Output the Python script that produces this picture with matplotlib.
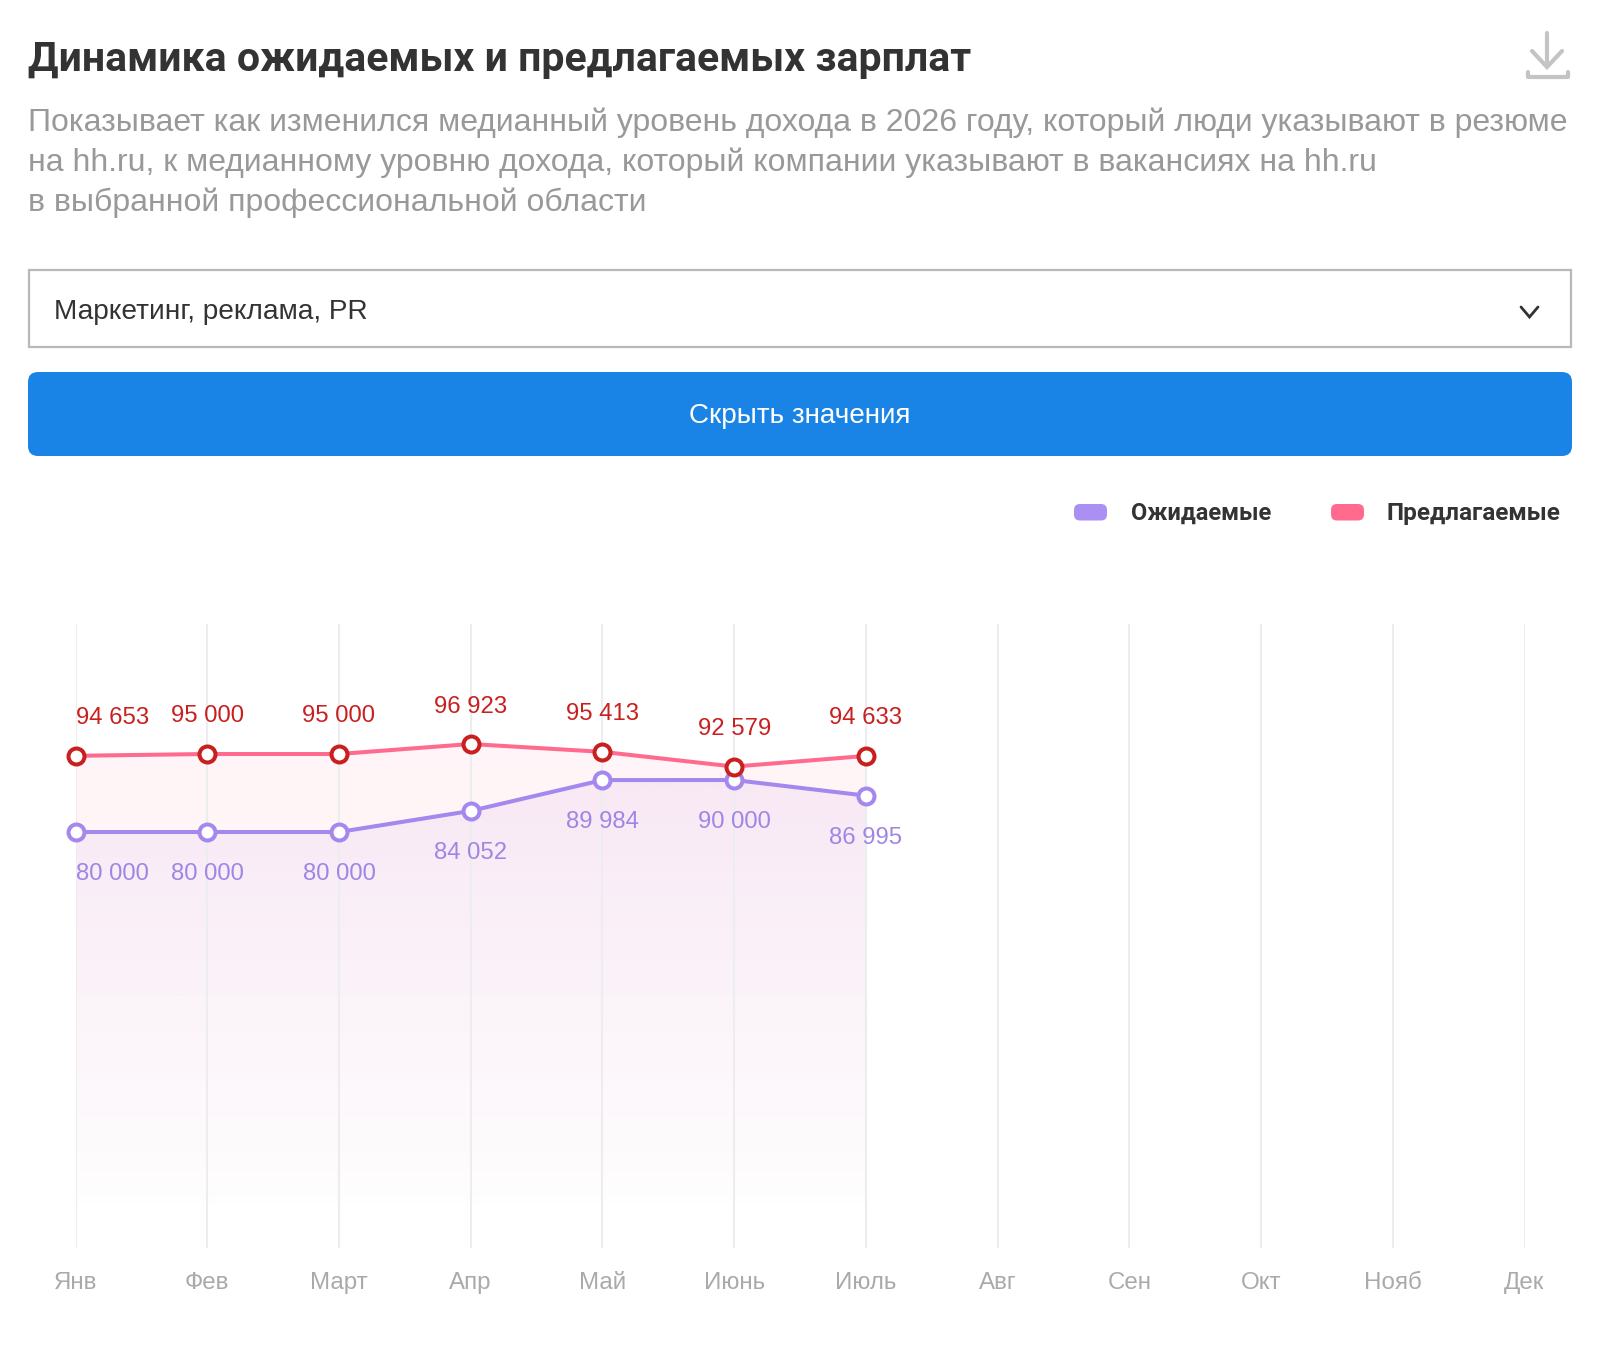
import numpy as np
import matplotlib
matplotlib.use("Agg")
import matplotlib.pyplot as plt
from matplotlib.patches import FancyBboxPatch, Rectangle

months = ['Янв', 'Фев', 'Март', 'Апр', 'Май', 'Июнь', 'Июль', 'Авг', 'Сен', 'Окт', 'Нояб', 'Дек']
expected = [80000, 80000, 80000, 84052, 89984, 90000, 86995]
offered = [94653, 95000, 95000, 96923, 95413, 92579, 94633]
title = 'Динамика ожидаемых и предлагаемых зарплат'
subtitle = ['Показывает как изменился медианный уровень дохода в 2026 году, который люди указывают в резюме',
            'на hh.ru, к медианному уровню дохода, который компании указывают в вакансиях на hh.ru',
            'в выбранной профессиональной области']
dropdown = 'Маркетинг, реклама, PR'
button = 'Скрыть значения'
legend_names = ['Ожидаемые', 'Предлагаемые']

PURPLE = '#a488ee'
SWATCH = '#ab8ff2'
PURPLE_TXT = '#a086e4'
PINK = '#ff6b8f'
RED = '#c8201f'
BODY = 'Liberation Sans'
HEAD = 'Roboto'

W, H = 1600, 1352
fig = plt.figure(figsize=(W / 100, H / 100), dpi=100, facecolor='white')

# page chrome, in pixel coordinates
ui = fig.add_axes([0, 0, 1, 1])
ui.set_xlim(0, W)
ui.set_ylim(H, 0)
ui.axis('off')

ui.text(28, 71, title, family=HEAD, weight='bold', fontsize=29.5, color='#333333', va='baseline')
for t, y in zip(subtitle, [131.5, 171.5, 211.5]):
    ui.text(28, y, t, family=BODY, fontsize=23.03, color='#999999', va='baseline')

ui.add_patch(Rectangle((29, 269.5), 1542, 77.5, fc='white', ec='#b8b8b8', lw=1.6))
ui.text(54, 319, dropdown, family=BODY, fontsize=20.2, color='#333333', va='baseline')
ui.plot([1521, 1529.5, 1538], [307, 317, 307], color='#333333', lw=2, solid_capstyle='round', solid_joinstyle='miter')

ui.add_patch(FancyBboxPatch((28, 372), 1544, 84, boxstyle='round,pad=0,rounding_size=10',
                            fc='#1984e5', ec='none'))
ui.text(800, 423, button, family=BODY, fontsize=20.1, color='white', ha='center', va='baseline')

# download icon
ic = '#c4c4c4'
ui.plot([1547, 1547], [33, 67], color=ic, lw=3, solid_capstyle='round')
ui.plot([1532, 1547, 1562], [51, 67, 51], color=ic, lw=3, solid_capstyle='round', solid_joinstyle='miter')
ui.plot([1527.5, 1527.5, 1567.5, 1567.5], [72, 77, 77, 72], color=ic, lw=3, solid_capstyle='round', solid_joinstyle='round')

# legend
for x, c in zip([1074, 1331], [SWATCH, PINK]):
    ui.add_patch(FancyBboxPatch((x, 504), 33, 16.5, boxstyle='round,pad=0,rounding_size=6',
                                fc=c, ec='none'))
for x, t, s in zip([1130.5, 1386], legend_names, [17.0, 17.5]):
    ui.text(x, 520, t, family=HEAD, weight='bold', fontsize=s, color='#333333', va='baseline')

# chart
x0, x1 = 75.5, 1524.5
ytop, ybot = 624.0, 1248.0
ax = fig.add_axes([x0 / W, 1 - ybot / H, (x1 - x0) / W, (ybot - ytop) / H])
ax.patch.set_alpha(0)
ax.set_xlim(0, 11)
ax.set_ylim(0, 120000)
for s in ax.spines.values():
    s.set_visible(False)
ax.set_yticks([])
xs = np.arange(len(months))
ax.set_xticks(xs, months, family=BODY, fontsize=17.4, color='#aaaaaa')
ax.tick_params(axis='x', length=0, pad=17.3)
ax.set_axisbelow(False)
ax.xaxis.grid(True, color='#ededf0', lw=1.5, zorder=3)


def gradient_fill(values, color, alpha_top, z):
    px = np.arange(len(values))
    poly = ax.fill_between(px, 0, values, color='none', lw=0)
    rgb = matplotlib.colors.to_rgb(color)
    n = 256
    img = np.zeros((n, 1, 4))
    img[..., 0], img[..., 1], img[..., 2] = rgb
    # fades out slightly above the axis floor
    frac = np.clip((np.linspace(1, 0, n) * 120000 - 5000) / (np.max(values) - 5000), 0, 1)
    img[:, 0, 3] = alpha_top * frac
    im = ax.imshow(img, extent=[px[0], px[-1], 0, 120000], aspect='auto', origin='upper',
                   zorder=z, interpolation='bilinear')
    im.set_clip_path(poly.get_paths()[0], transform=ax.transData)
    ax.set_xlim(0, 11)
    ax.set_ylim(0, 120000)


gradient_fill(offered, PINK, 0.075, 1)
gradient_fill(expected, '#b57be0', 0.10, 2)

for vals, line, edge in [(expected, PURPLE, PURPLE), (offered, PINK, RED)]:
    ax.plot(xs[:len(vals)], vals, color=line, lw=2.9, zorder=5, clip_on=False)
    ax.plot(xs[:len(vals)], vals, ls='none', marker='o', ms=11.5, mew=2.9, mfc='white', mec=edge,
            zorder=6, clip_on=False)


def fmt(v):
    return f'{v:,}'.replace(',', ' ')


for i, (e, o) in enumerate(zip(expected, offered)):
    ha = 'left' if i == 0 else 'center'
    ax.annotate(fmt(o), (i, o), xytext=(0, 27), textcoords='offset points', ha=ha, va='center',
                family=BODY, fontsize=17.2, color=RED, zorder=7, annotation_clip=False)
    ax.annotate(fmt(e), (i, e), xytext=(0, -30.5), textcoords='offset points', ha=ha, va='center',
                family=BODY, fontsize=17.2, color=PURPLE_TXT, zorder=7, annotation_clip=False)

fig.savefig('out.png', dpi=100, facecolor='white')
